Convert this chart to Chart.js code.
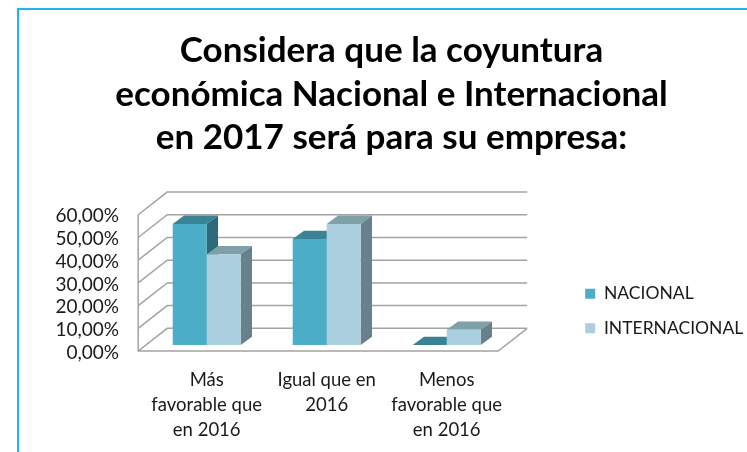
<!DOCTYPE html>
<html>
<head>
<meta charset="utf-8">
<script src="https://cdn.jsdelivr.net/npm/chart.js@4.4.1/dist/chart.umd.min.js"></script>
<style>
  html, body { margin: 0; padding: 0; background: #fff; overflow: hidden; width: 747px; height: 452px; }
  #frame { position: absolute; left: 17px; top: 8px; width: 760px; height: 460px; border-left: 2px solid #20b6ec; border-top: 2px solid #20b6ec; }
  #wrap { position: absolute; left: 19px; top: 10px; width: 747px; height: 442px; }
</style>
</head>
<body>
<div id="frame"></div>
<div id="wrap"><canvas id="chart" width="747" height="442"></canvas></div>
<script>
const titleLines = ['Considera que la coyuntura', 'económica Nacional e Internacional', 'en 2017 será para su empresa:'];
const categories = [['Más', 'favorable que', 'en 2016'], ['Igual que en', '2016'], ['Menos', 'favorable que', 'en 2016']];
const nacional = [53.33, 46.67, 0];
const internacional = [40.0, 53.33, 6.67];
const yMax = 60;
const yStep = 10;

const FONT = 'Lato, "Liberation Sans", sans-serif';
// offsets of the 3d box, relative to the plane the bars' fronts sit on
const FRONT = { dx: -8.5, dy: 6 };
const BACK = { dx: 20.5, dy: -16.7 };
const BAR_DEPTH = { dx: 11.3, dy: -8.3 };
const PAD_LEFT = 10.7, PAD_RIGHT = 12.7;
const AREA = { left: 127.7, right: 487.7, bottom: 335 };

function poly(ctx, pts) {
  ctx.beginPath();
  pts.forEach(([px, py], i) => i ? ctx.lineTo(px, py) : ctx.moveTo(px, py));
  ctx.closePath();
  ctx.fill();
}

const box3d = {
  id: 'box3d',
  beforeDatasetsDraw(chart) {
    const { ctx, chartArea: a, scales: { y } } = chart;
    const y0 = y.getPixelForValue(0), yTop = y.getPixelForValue(yMax);
    ctx.save();
    ctx.strokeStyle = '#a3a3a3';
    ctx.lineWidth = 1.5;
    ctx.beginPath();
    y.ticks.forEach(t => {
      const py = y.getPixelForValue(t.value);
      ctx.moveTo(a.left + FRONT.dx, py + FRONT.dy);
      ctx.lineTo(a.left + BACK.dx, py + BACK.dy);
      ctx.lineTo(a.right + BACK.dx, py + BACK.dy);
    });
    ctx.moveTo(a.left + FRONT.dx, yTop + FRONT.dy);
    ctx.lineTo(a.left + FRONT.dx, y0 + FRONT.dy);
    ctx.lineTo(a.right + FRONT.dx, y0 + FRONT.dy);
    ctx.lineTo(a.right + BACK.dx, y0 + BACK.dy);
    ctx.stroke();

    // top and side faces; the library draws the front faces over them
    chart.data.datasets.forEach((ds, di) => {
      chart.getDatasetMeta(di).data.forEach(bar => {
        const { x: cx, y: top, base, width } = bar.getProps(['x', 'y', 'base', 'width'], true);
        const l = cx - width / 2, r = cx + width / 2;
        ctx.fillStyle = ds.topColor;
        poly(ctx, [[l, top], [r, top], [r + BAR_DEPTH.dx, top + BAR_DEPTH.dy], [l + BAR_DEPTH.dx, top + BAR_DEPTH.dy]]);
        ctx.fillStyle = ds.sideColor;
        poly(ctx, [[r, top], [r + BAR_DEPTH.dx, top + BAR_DEPTH.dy], [r + BAR_DEPTH.dx, base + BAR_DEPTH.dy], [r, base]]);
      });
    });
    ctx.restore();
  }
};

new Chart(document.getElementById('chart'), {
  type: 'bar',
  data: {
    labels: categories,
    datasets: [
      { label: 'NACIONAL', data: nacional, backgroundColor: '#4badc8', topColor: '#3a8396', sideColor: '#2d6978' },
      { label: 'INTERNACIONAL', data: internacional, backgroundColor: '#aacfde', topColor: '#80a0a8', sideColor: '#688089' }
    ]
  },
  options: {
    responsive: false,
    animation: false,
    events: [],
    datasets: { bar: { barPercentage: 1, categoryPercentage: 0.5667, borderWidth: 0 } },
    layout: { padding: { left: PAD_LEFT, right: PAD_RIGHT, top: 0, bottom: 0 } },
    plugins: {
      title: {
        display: true, text: titleLines, color: '#000',
        font: { family: FONT, size: 35, weight: 'bold', lineHeight: 1.243 },
        padding: { top: 19.25, bottom: 49 }
      },
      legend: {
        position: 'right', align: 'center', maxWidth: 300,
        // empty title only pushes the two items down to where the reference has them
        title: { display: true, text: '', font: { size: 10, lineHeight: 1 }, padding: { top: 150, bottom: 0 } },
        labels: { boxWidth: 10, boxHeight: 10, padding: 17, color: '#1a1a1a', font: { family: FONT, size: 17.5 } }
      },
      tooltip: { enabled: false }
    },
    scales: {
      x: {
        grid: { display: false, drawTicks: false },
        border: { display: false },
        ticks: { color: '#1a1a1a', padding: 22.5, maxRotation: 0, autoSkip: false, font: { family: FONT, size: 18.5, lineHeight: 1.35 } },
        afterFit: s => { s.height = s.chart.height - AREA.bottom; }
      },
      y: {
        min: 0, max: yMax,
        grid: { display: false, drawTicks: false },
        border: { display: false },
        ticks: {
          stepSize: yStep, autoSkip: false, padding: 27.7, labelOffset: 7.5, color: '#1a1a1a',
          font: { family: FONT, size: 19 },
          callback: v => v.toFixed(2).replace('.', ',') + '%'
        },
        afterFit: s => { s.width = AREA.left - PAD_LEFT; }
      },
      pad: {
        type: 'linear', position: 'right', display: true,
        grid: { display: false, drawTicks: false },
        border: { display: false },
        ticks: { display: false },
        afterFit: s => { s.width = Math.max(0, s.chart.width - PAD_RIGHT - s.chart.legend.width - AREA.right); }
      }
    }
  },
  plugins: [box3d]
});
</script>
</body>
</html>
